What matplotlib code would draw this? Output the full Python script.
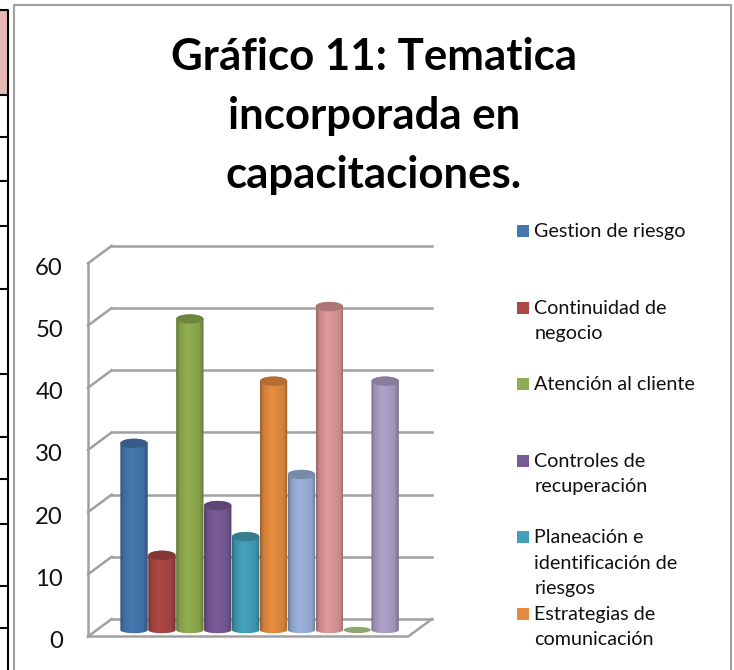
import numpy as np
import matplotlib
matplotlib.use('Agg')
import matplotlib.pyplot as plt
from matplotlib.path import Path
from matplotlib.patches import PathPatch, Ellipse, Rectangle
from matplotlib.transforms import ScaledTranslation

plt.rcParams['font.family'] = ['Lato', 'DejaVu Sans']

W, H = 734, 670

title = 'Gráfico 11: Tematica\nincorporada en\ncapacitaciones.'
values = [30, 12, 50, 20, 15, 40, 25, 52, 0, 40]
colors = ['#4676ae', '#ab4745', '#8fac50', '#775a96', '#43a0ba',
          '#e58b3f', '#9ab1da', '#dc9799', '#8fa56e', '#ae9fc6']
legend_labels = ['Gestion de riesgo', 'Continuidad de\nnegocio', 'Atención al cliente',
                 'Controles de\nrecuperación', 'Planeación e\nidentificación de\nriesgos',
                 'Estrategias de\ncomunicación']
y_ticks = [0, 10, 20, 30, 40, 50, 60]

# trozo de tabla que asoma a la izquierda del grafico
table_rows = [95, 137, 181, 226, 289, 374, 437, 479, 524, 586, 628]

# geometria de la "caja" 3D, en unidades de los datos
front_dy, back_dy = -1.05, 1.77
front_dx, back_dx = -1.65, -0.8
right_back = 10.68
depth_x = back_dx - front_dx
bar_w = 0.98
cap_h = 1.5


def cylinder_rgb(color):
    base = np.array(matplotlib.colors.to_rgb(color))
    t = np.linspace(0, 1, 64)
    shade = np.interp(t, [0, 0.12, 0.4, 0.85, 1], [0.68, 0.9, 1.02, 0.92, 0.68])
    return np.clip(base[None, None, :] * shade[None, :, None], 0, 1)


def draw_cylinder(ax, x, v, color):
    if v == 0:
        ax.add_patch(Ellipse((x, v), bar_w, 1.0, fc=color, ec='none', zorder=3))
        return
    th = np.linspace(np.pi, 0, 40)
    low = np.column_stack([x + bar_w / 2 * np.cos(th), -cap_h / 2 * 0.7 * np.sin(th)])
    top = np.column_stack([x + bar_w / 2 * np.cos(th), v + cap_h / 2 * np.sin(th)])
    pts = np.vstack([top, low[::-1]])
    clip = PathPatch(Path(np.vstack([pts, pts[0]])), transform=ax.transData, fc='none', ec='none')
    ax.add_patch(clip)
    im = ax.imshow(cylinder_rgb(color), extent=(x - bar_w / 2, x + bar_w / 2, -2, v + 2),
                   aspect='auto', interpolation='bilinear', zorder=3)
    im.set_clip_path(clip)
    dark = np.array(matplotlib.colors.to_rgb(color)) * 0.78
    ax.add_patch(Ellipse((x, v), bar_w, cap_h, fc=dark, ec='none', zorder=4))


fig = plt.figure(figsize=(W / 100, H / 100), dpi=100)

# fondo: tabla de la izquierda y marco del grafico
bg = fig.add_axes([0, 0, 1, 1])
bg.set_xlim(0, W)
bg.set_ylim(H, 0)
bg.axis('off')
bg.add_patch(Rectangle((0, 10), 8, 85, fc='#e6b8b7', ec='none'))
bg.plot([0, 8, 8], [10, 10, H], color='black', lw=1.5)
bg.hlines(table_rows, 0, 8, color='black', lw=1.5)
bg.plot([13.5, 13.5, 731, 731], [H, 5, 5, H], color='#a0a0a0', lw=1.5)

bg.text(374, 116, title, ha='center', va='center', fontsize=31.5, fontweight='bold',
        color='black', linespacing=1.57)

# leyenda
for i, (lab, col) in enumerate(zip(legend_labels, colors)):
    yc = 231 + 76.6 * i
    bg.add_patch(Rectangle((517, yc - 6), 12, 12, fc=col, ec='none'))
    bg.text(534.5, yc - 8, lab, ha='left', va='top', fontsize=14.2, color='#111111', linespacing=1.6)

# ejes de datos, alineados con las paredes del grafico
left_px, right_px, top_px, bot_px = 88, 432, 245.7, 636.5
ax = fig.add_axes([left_px / W, 1 - bot_px / H, (right_px - left_px) / W, (bot_px - top_px) / H])
ax.patch.set_alpha(0)

grid_col = '#a0a0a0'
grid_lw = 1.8
for t in y_ticks:
    ax.plot([back_dx, right_back], [t + back_dy] * 2, color=grid_col, lw=grid_lw, clip_on=False, zorder=1)
    ax.plot([front_dx, back_dx], [t + front_dy, t + back_dy], color=grid_col, lw=grid_lw, clip_on=False, zorder=1)
ax.plot([front_dx, front_dx], [front_dy, y_ticks[-1] + front_dy], color=grid_col, lw=grid_lw, clip_on=False, zorder=1)
ax.plot([front_dx, right_back - depth_x, right_back], [front_dy, front_dy, back_dy],
        color=grid_col, lw=grid_lw, clip_on=False, zorder=1)

for i, (v, col) in enumerate(zip(values, colors)):
    draw_cylinder(ax, i, v, col)

ax.set_xlim(front_dx, right_back)
ax.set_ylim(front_dy, (630 - top_px) / 6.22)
ax.set_xticks([])
ax.set_yticks(np.array(y_ticks) + front_dy)
ax.set_yticklabels([str(t) for t in y_ticks], fontsize=17.2, color='#111111')
ax.tick_params(axis='y', length=0, pad=18)
# las etiquetas van un poco por debajo de cada linea
shift = ScaledTranslation(0, -2.2 / 72, fig.dpi_scale_trans)
for lab in ax.get_yticklabels():
    lab.set_transform(lab.get_transform() + shift)
for s in ax.spines.values():
    s.set_visible(False)

fig.savefig('out.png', dpi=100)
